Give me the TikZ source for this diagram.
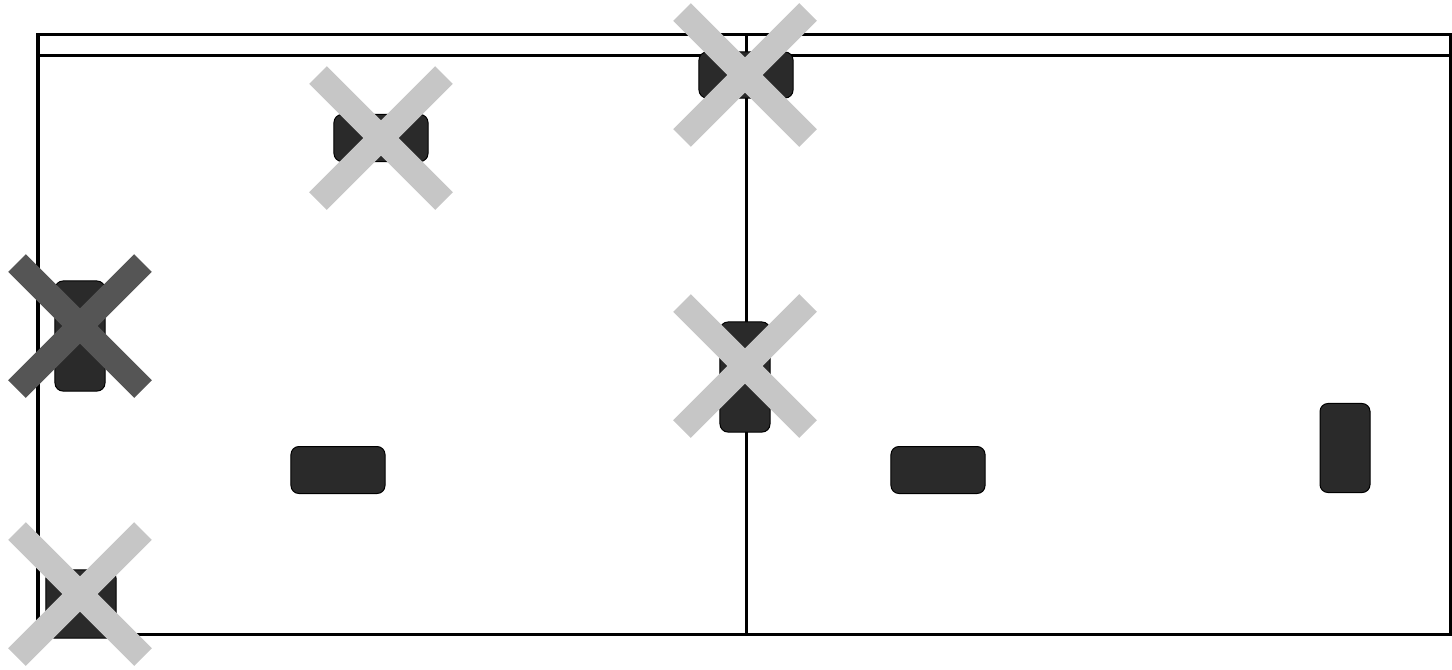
\documentclass[tikz,border=0pt]{standalone}
\usetikzlibrary{positioning}
\definecolor{crossgray}{HTML}{C6C6C6}
\definecolor{crossdark}{HTML}{555555}
\definecolor{blockfill}{HTML}{2A2A2A}
\tikzset{
	courtline/.style={
			line width=0.03cm,
			draw=black
		},
	block/.style={
			draw=black,
			fill=blockfill,
			rounded corners=0.08cm,
			inner sep=0pt,
			line width=0.01cm
		},
	flatblock/.style={
			block,
			minimum width=0.94cm,
			minimum height=0.47cm
		},
	tallblock/.style={
			block,
			minimum width=0.5cm,
			minimum height=1.1cm
		},
	crossbar/.style={
			line width=0.25cm,
			draw=crossgray
		},
	darkbar/.style={
			crossbar,
			draw=crossdark
		}
}

\begin{document}
\begin{tikzpicture}[x=0.01cm, y=-0.01cm]
\useasboundingbox (0,0) rectangle (1452,669);

% court
\draw[courtline] (38,34) rectangle (1450,634);
\draw[courtline] (38,55) -- (1450,55);
\draw[courtline] (746,34) -- (746,634);

% blocks
\node[flatblock] (b1) at (381,138) {};
\node[flatblock, minimum height=0.46cm] (b2) at (746,75) {};
\node[tallblock] (b3) at (80,336) {};
\node[block, minimum width=0.7cm, minimum height=0.68cm] (b4) at (81,604) {};
\node[tallblock] (b5) at (745,377) {};
\node[flatblock] (b6) at (338,470) {};
\node[flatblock] (b7) at (938,470) {};
\node[tallblock, minimum height=0.89cm] (b8) at (1345,448) {};

% crosses
\coordinate (x1) at (b1.center);
\coordinate (x2) at (745,75);
\coordinate (x3) at (80,326);
\coordinate (x4) at (80,594);
\coordinate (x5) at (745,366);

\draw[crossbar] ([shift={(-63,-63)}]x1) -- ([shift={(63,63)}]x1)
  ([shift={(-63,63)}]x1) -- ([shift={(63,-63)}]x1);
\draw[crossbar] ([shift={(-63,-63)}]x2) -- ([shift={(63,63)}]x2)
  ([shift={(-63,63)}]x2) -- ([shift={(63,-63)}]x2);
\draw[darkbar] ([shift={(-63,-63)}]x3) -- ([shift={(63,63)}]x3)
  ([shift={(-63,63)}]x3) -- ([shift={(63,-63)}]x3);
\draw[crossbar] ([shift={(-63,-63)}]x4) -- ([shift={(63,63)}]x4)
  ([shift={(-63,63)}]x4) -- ([shift={(63,-63)}]x4);
\draw[crossbar] ([shift={(-63,-63)}]x5) -- ([shift={(63,63)}]x5)
  ([shift={(-63,63)}]x5) -- ([shift={(63,-63)}]x5);
\end{tikzpicture}
\end{document}
